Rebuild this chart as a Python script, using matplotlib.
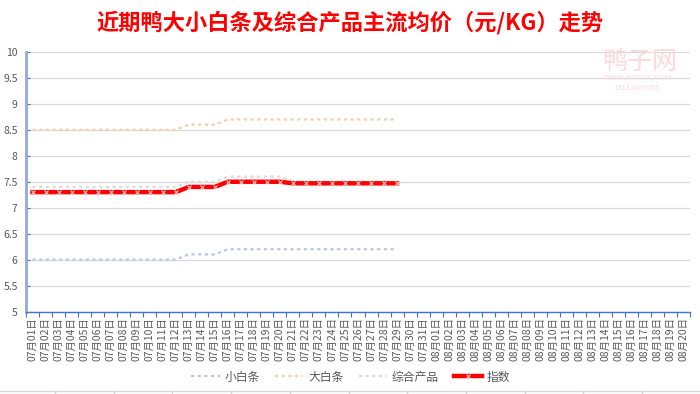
import matplotlib
matplotlib.use("Agg")
import matplotlib.pyplot as plt
from matplotlib.lines import Line2D
import numpy as np

plt.rcParams['font.family'] = ['Noto Sans CJK SC', 'DejaVu Sans']

# ---- data ----
dates = [f"07月{d:02d}日" for d in range(1, 32)] + [f"08月{d:02d}日" for d in range(1, 21)]
small_white = [6.0]*12 + [6.1]*3 + [6.2]*14
big_white = [8.5]*12 + [8.6]*3 + [8.7]*14
combined = [7.4]*12 + [7.5]*3 + [7.6]*5 + [7.5]*9
index_vals = [7.3]*12 + [7.4]*3 + [7.5]*5 + [7.47]*9
series_names = ["小白条", "大白条", "综合产品", "指数"]
title = "近期鸭大小白条及综合产品主流均价（元/KG）走势"
yticks = [5, 5.5, 6, 6.5, 7, 7.5, 8, 8.5, 9, 9.5, 10]

fig = plt.figure(figsize=(7, 3.94), dpi=100)
ax = fig.add_axes([26/700, 1-311.5/394, 664/700, (311.5-52)/394])

x_all = np.arange(len(dates))
n = len(small_white)
x = x_all[:n]

dot = (0, (1.4, 1.6))
ax.plot(x, small_white, color='#B4C7E7', lw=1.6, linestyle=dot, dash_capstyle='butt', zorder=3)
ax.plot(x, big_white, color='#F8CBAD', lw=1.6, linestyle=dot, dash_capstyle='butt', zorder=3)
ax.plot(x, combined, color='#DBDBDB', lw=1.6, linestyle=dot, dash_capstyle='butt', zorder=3)
ax.plot(x, index_vals, color='#FF0000', lw=3.2, marker='x', markersize=3,
        markeredgecolor='#FFC9C9', markeredgewidth=0.8, zorder=4, solid_joinstyle='round')

ax.set_xlim(-0.5, len(dates)-0.5)
ax.set_ylim(5, 10)
ax.set_yticks(yticks)
ax.set_yticklabels([f"{v:g}" for v in yticks], fontsize=7.5, color='#595959')
ax.yaxis.grid(True, color='#D9D9D9', lw=0.9)
ax.set_axisbelow(True)

ax.set_xticks(np.arange(-0.5, len(dates)), minor=False)
ax.set_xticklabels([])
ax.set_xticks(x_all, minor=True)
ax.set_xticklabels(dates, minor=True, rotation=90, fontsize=7.5, color='#595959')
ax.tick_params(axis='x', which='major', direction='out', length=3.5, color='#4472C4', width=0.8)
ax.tick_params(axis='x', which='minor', length=0, pad=4)
ax.tick_params(axis='y', direction='in', length=3, color='#4472C4', width=0.8, pad=6)

for s in ['top', 'right']:
    ax.spines[s].set_visible(False)
ax.spines['left'].set_color('#8FAADC')
ax.spines['left'].set_linewidth(2)
ax.spines['bottom'].set_color('#4472C4')
ax.spines['bottom'].set_linewidth(1)

fig.text(0.5, 1-23/394, title, ha='center', va='center', fontsize=16,
         fontweight='bold', color='#FF0000')

# watermark
fig.text(640/700, 1-62/394, "鸭子网", ha='center', va='center', fontsize=18,
         color='#FADADA')
fig.text(638/700, 1-78/394, "WWW.INTEDC.COM", ha='center', va='center', fontsize=5.5,
         color='#F9DCDC')
fig.text(637/700, 1-88/394, "15131069765", ha='center', va='center', fontsize=5.5,
         color='#F9DCDC')

handles = [
    Line2D([], [], color='#B4C7E7', lw=1.6, linestyle=dot),
    Line2D([], [], color='#F8CBAD', lw=1.6, linestyle=dot),
    Line2D([], [], color='#DBDBDB', lw=1.6, linestyle=dot),
    Line2D([], [], color='#FF0000', lw=3.2, marker='x', markersize=3,
           markeredgecolor='#FFC9C9', markeredgewidth=0.8),
]
leg = fig.legend(handles, series_names, loc='center', bbox_to_anchor=(351/700, 1-377/394),
                 ncol=4, frameon=False, fontsize=8.5, handlelength=2.4,
                 columnspacing=1.3, handletextpad=0.4, labelcolor='#595959')

# bottom sheet border
fig.add_artist(Line2D([0, 1], [1-391/394, 1-391/394], color='#D9D9D9', lw=1,
                      transform=fig.transFigure))
for px in np.arange(55, 700, 58.7):
    fig.add_artist(Line2D([px/700, px/700], [0, 1-391/394], color='#D9D9D9', lw=1,
                          transform=fig.transFigure))

fig.savefig("out.png", dpi=100, facecolor='white')
